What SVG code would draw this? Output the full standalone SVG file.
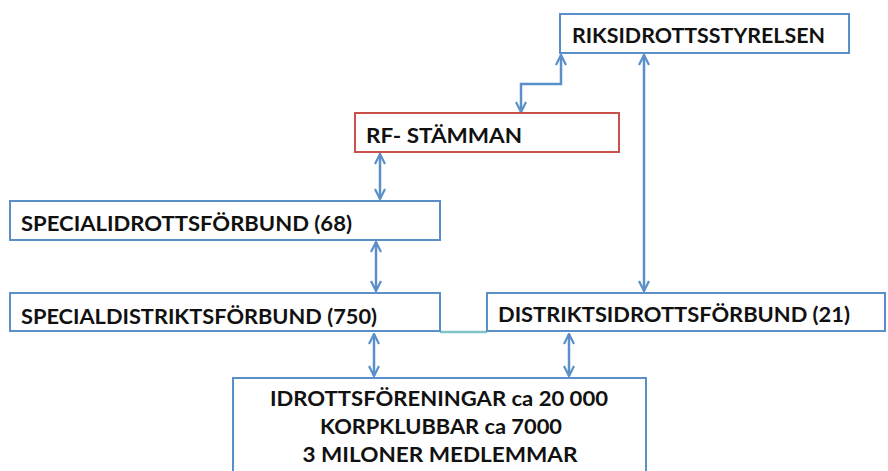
<svg xmlns="http://www.w3.org/2000/svg" width="888" height="471" viewBox="0 0 888 471">
<style>
.box{fill:#ffffff;stroke:#5b8fc9;stroke-width:2}
.red{fill:#ffffff;stroke:#c9504d;stroke-width:2}
.t{font-family:Lato,"Open Sans","Liberation Sans",sans-serif;font-weight:bold;font-size:21.5px;fill:#111111}
.c{fill:none;stroke:#5b8fc9;stroke-width:2.5}
</style>
<defs>
<marker id="ah" viewBox="0 0 12 12" refX="11" refY="6" markerWidth="12" markerHeight="12" markerUnits="userSpaceOnUse" orient="auto-start-reverse">
<path d="M1,1 L11,6 L1,11" fill="none" stroke="#5b8fc9" stroke-width="2.2"/>
</marker>
</defs>
<rect width="888" height="471" fill="#ffffff"/>
<g id="connectors">
<path class="c" d="M521,112 V84 H561 V55" marker-start="url(#ah)" marker-end="url(#ah)"/>
<line class="c" x1="644" y1="55" x2="644" y2="291" marker-start="url(#ah)" marker-end="url(#ah)"/>
<line class="c" x1="380" y1="154" x2="380" y2="199" marker-start="url(#ah)" marker-end="url(#ah)"/>
<line class="c" x1="376" y1="242" x2="376" y2="291" marker-start="url(#ah)" marker-end="url(#ah)"/>
<line class="c" x1="374" y1="334" x2="374" y2="376" marker-start="url(#ah)" marker-end="url(#ah)"/>
<line class="c" x1="569" y1="334" x2="569" y2="376" marker-start="url(#ah)" marker-end="url(#ah)"/>
<line x1="440" y1="332" x2="487" y2="332" stroke="#7fc4c8" stroke-width="2.5"/>
</g>
<g id="riksidrottsstyrelsen">
<rect class="box" x="560" y="14" width="289" height="39"/>
<text class="t" x="572" y="43" textLength="253" lengthAdjust="spacingAndGlyphs">RIKSIDROTTSSTYRELSEN</text>
</g>
<g id="rf-stamman">
<rect class="red" x="355" y="113" width="264" height="39"/>
<text class="t" x="366" y="143" textLength="156" lengthAdjust="spacingAndGlyphs">RF- STÄMMAN</text>
</g>
<g id="specialidrottsforbund">
<rect class="box" x="10" y="201" width="430" height="39"/>
<text class="t" x="21" y="231" textLength="331" lengthAdjust="spacingAndGlyphs">SPECIALIDROTTSFÖRBUND (68)</text>
</g>
<g id="specialdistriktsforbund">
<rect class="box" x="10" y="293" width="430" height="38"/>
<text class="t" x="21" y="324" textLength="356" lengthAdjust="spacingAndGlyphs">SPECIALDISTRIKTSFÖRBUND (750)</text>
</g>
<g id="distriktsidrottsforbund">
<rect class="box" x="487" y="293" width="398" height="38"/>
<text class="t" x="498" y="322" textLength="352" lengthAdjust="spacingAndGlyphs">DISTRIKTSIDROTTSFÖRBUND (21)</text>
</g>
<g id="idrottsforeningar">
<rect class="box" x="233" y="378" width="413" height="110"/>
<text class="t" x="439" y="406" text-anchor="middle" textLength="338" lengthAdjust="spacingAndGlyphs">IDROTTSFÖRENINGAR ca 20 000</text>
<text class="t" x="441" y="434" text-anchor="middle" textLength="242" lengthAdjust="spacingAndGlyphs">KORPKLUBBAR ca 7000</text>
<text class="t" x="440" y="462" text-anchor="middle" textLength="275" lengthAdjust="spacingAndGlyphs">3 MILONER MEDLEMMAR</text>
</g>
</svg>
